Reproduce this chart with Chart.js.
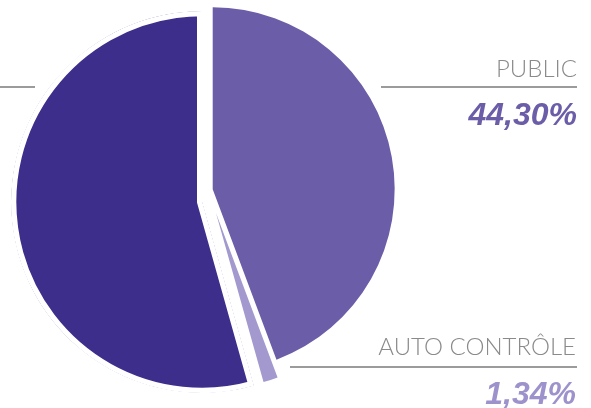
<!DOCTYPE html>
<html>
<head>
<meta charset="utf-8">
<script src="https://cdn.jsdelivr.net/npm/chart.js@4"></script>
<style>
  html, body { margin: 0; padding: 0; background: #ffffff; overflow: hidden; }
  #wrap { position: relative; width: 591px; height: 408px; }
  canvas { display: block; }
</style>
</head>
<body>
<div id="wrap"><canvas id="c" width="591" height="408"></canvas></div>
<script>
// ---- data ----
const categories = ['PUBLIC', 'AUTO CONTRÔLE', 'PRIVÉ'];
const shares = [44.30, 1.34, 54.36];
const valueLabels = ['44,30%', '1,34%', '54,36%'];

// ---- style ----
const sliceColors = ['#6c5da8', '#a399cf', '#3d2e8c'];
const labelColors = ['#6c5da8', '#9d92cb', '#3d2e8c'];
const explodeX = [10.7, 14, 0];
const explodeY = [-12.7, 11, 0];
const explodeR = [-8.7, -15, 0];

const explode = {
  id: 'explode',
  afterDatasetsUpdate(chart) {
    chart.getDatasetMeta(0).data.forEach((arc, i) => {
      arc.x += explodeX[i];
      arc.y += explodeY[i];
      arc.outerRadius += explodeR[i];
    });
  }
};

const labelsPlugin = {
  id: 'sideLabels',
  afterDraw(chart) {
    const ctx = chart.ctx;
    ctx.save();
    // leader lines
    ctx.strokeStyle = '#9b9b9b';
    ctx.lineWidth = 2;
    ctx.beginPath();
    ctx.moveTo(381, 87); ctx.lineTo(577, 87);
    ctx.moveTo(290, 367); ctx.lineTo(577, 367);
    ctx.moveTo(0, 87); ctx.lineTo(35, 87);
    ctx.stroke();
    // category names
    ctx.fillStyle = '#8a8a8a';
    ctx.textAlign = 'right';
    ctx.textBaseline = 'alphabetic';
    ctx.font = '300 24px Lato, "Open Sans", sans-serif';
    ctx.fillText(categories[0], 577, 77);
    ctx.fillText(categories[1], 576, 355);
    // values
    ctx.font = 'italic bold 32px "Liberation Sans", Arial, sans-serif';
    ctx.fillStyle = labelColors[0];
    ctx.fillText(valueLabels[0], 577, 125);
    ctx.fillStyle = labelColors[1];
    ctx.fillText(valueLabels[1], 576, 404);
    ctx.restore();
  }
};

new Chart(document.getElementById('c'), {
  type: 'pie',
  data: {
    labels: categories,
    datasets: [{
      data: shares,
      backgroundColor: sliceColors,
      borderColor: '#ffffff',
      borderWidth: [0, 0, 5],
      borderAlign: 'inner'
    }]
  },
  options: {
    responsive: false,
    animation: false,
    events: [],
    radius: 191,
    layout: { padding: { left: 11, top: 11, right: 198, bottom: 15 } },
    plugins: { legend: { display: false }, tooltip: { enabled: false } }
  },
  plugins: [explode, labelsPlugin]
});
</script>
</body>
</html>
